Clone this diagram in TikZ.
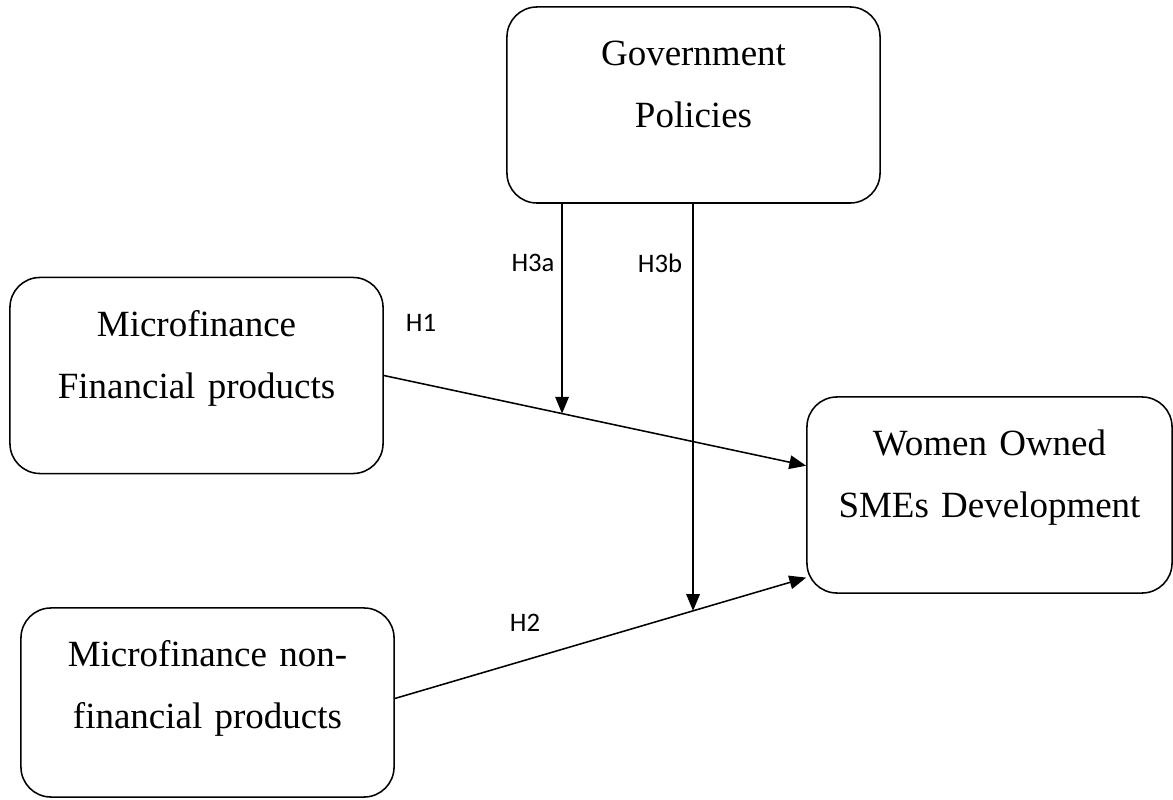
\documentclass[tikz,border=0pt]{standalone}
\usepackage{fontspec}
\setmainfont{Liberation Serif}
\newfontfamily\hypfont{Carlito}
\usepackage{tikz}
\usetikzlibrary{arrows.meta,positioning,calc}

\begin{document}
\begin{tikzpicture}[
  x=0.025cm,y=-0.025cm,
  box/.style={draw=black,line width=1.1pt,rounded corners=0.75cm,align=center,
    text width=9.325cm,inner xsep=0pt,inner ysep=0pt,text height=1.47cm,text depth=3.43cm,
    font=\fontsize{26.3pt}{44pt}\selectfont},
  hyp/.style={font=\hypfont\fontsize{19pt}{22pt}\selectfont,inner sep=0pt},
  arr/.style={-{Triangle[length=0.42cm,width=0.34cm]},draw=black,line width=1.1pt}
]
\useasboundingbox (0,0) rectangle (1173,800);
\node[box] (gov) at (693.5,105) {Government\\Policies};
\node[box] (mfp) at (196.5,375.5) {Microfinance\\Financial products};
\node[box,text depth=3.255cm] (mnf) at (207.5,702.5) {Microfinance non-\\financial products};
\node[box,text width=9.125cm] (wosd) at (989.5,495) {Women Owned\\SMEs Development};
\coordinate (h1end) at ($(wosd.north west)!0.352!(wosd.south west)$);
\coordinate (h2end) at ($(wosd.north west)!0.918!(wosd.south west)$);
\draw[arr] (mfp.east) -- coordinate[pos=0.422] (h1mod) (h1end);
\draw[arr] ([yshift=0.1cm]mnf.east) -- coordinate[pos=0.725] (h2mod) (h2end);
\draw[arr] (gov.south -| h1mod) -- (h1mod);
\draw[arr] (gov.south -| h2mod) -- (h2mod);
\node[hyp] (lh1) at (421,323) {H1};
\node[hyp] (lh2) at (525,623) {H2};
\node[hyp] (lh3a) at (533,263) {H3a};
\node[hyp] (lh3b) at (660,263) {H3b};
\end{tikzpicture}
\end{document}
